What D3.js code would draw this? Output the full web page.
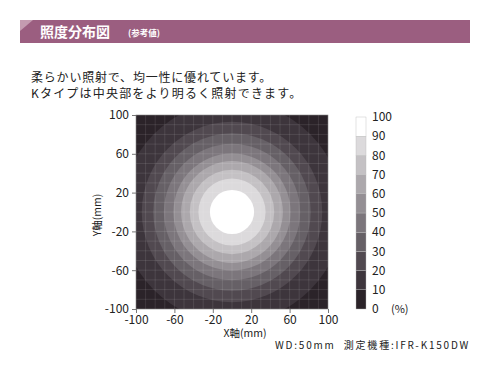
<!DOCTYPE html>
<html>
<head>
<meta charset="utf-8">
<script src="https://cdn.jsdelivr.net/npm/d3@7"></script>
<style>
  body { margin: 0; background: #fff; }
  svg { display: block; font-family: "Noto Sans CJK JP", "Noto Sans", sans-serif; }
</style>
</head>
<body>
<div id="chart"></div>
<script>
// contour levels (%) and the radius (mm) where each level boundary sits
const levels = [10, 20, 30, 40, 50, 60, 70, 80, 90];
const radiiMm = [115, 94, 82, 71, 61, 53, 44, 35, 23];
// band colours, 0-10 ... 90-100
const bandColors = ['#2b2329', '#3d353c', '#514950', '#666066', '#7c767c',
                    '#948f94', '#aca8ac', '#c4c1c4', '#dcdadc', '#ffffff'];
const xTicks = [-100, -60, -20, 20, 60, 100];
const yTicks = [-100, -60, -20, 20, 60, 100];
const barTicks = [0, 10, 20, 30, 40, 50, 60, 70, 80, 90, 100];

const W = 490, H = 370;
const plot = {left: 136, right: 328, top: 115, bottom: 309};

const svg = d3.select('#chart').append('svg')
    .attr('width', W)
    .attr('height', H);

// ===== header band =====
svg.append('rect')
    .attr('x', 20).attr('y', 20)
    .attr('width', 450).attr('height', 23)
    .attr('fill', '#9b5e80');
svg.append('path')
    .attr('d', 'M20,20 L33,20 L20,31 Z')
    .attr('fill', '#c49bb0');
svg.append('text')
    .attr('x', 40).attr('y', 37)
    .attr('fill', '#fff')
    .attr('font-size', 14)
    .attr('font-weight', 'bold')
    .text('照度分布図');
svg.append('text')
    .attr('x', 128).attr('y', 36)
    .attr('fill', '#fff')
    .attr('font-size', 8.5)
    .attr('font-weight', 'bold')
    .text('(参考値)');

svg.append('text')
    .attr('x', 31).attr('y', 82)
    .attr('fill', '#222')
    .attr('font-size', 12)
    .attr('letter-spacing', 0.8)
    .text('柔らかい照射で、均一性に優れています。');
svg.append('text')
    .attr('x', 31).attr('y', 98)
    .attr('fill', '#222')
    .attr('font-size', 12)
    .attr('letter-spacing', 1.2)
    .text('Kタイプは中央部をより明るく照射できます。');

// ===== contour map =====
const x = d3.scaleLinear().domain([-100, 100]).range([plot.left, plot.right]);
const y = d3.scaleLinear().domain([-100, 100]).range([plot.bottom, plot.top]);

svg.append('clipPath').attr('id', 'clip')
  .append('rect')
    .attr('x', plot.left).attr('y', plot.top)
    .attr('width', plot.right - plot.left)
    .attr('height', plot.bottom - plot.top);

const g = svg.append('g').attr('clip-path', 'url(#clip)');
g.append('rect')
    .attr('x', plot.left).attr('y', plot.top)
    .attr('width', plot.right - plot.left)
    .attr('height', plot.bottom - plot.top)
    .attr('fill', bandColors[0]);

g.selectAll('circle').data(levels)
    .enter()
    .append('circle')
    .attr('cx', x(0))
    .attr('cy', y(0))
    .attr('r', (d, i) => x(radiiMm[i]) - x(0))
    .attr('fill', (d, i) => bandColors[i + 1]);

// light grid every 10 mm
const grid = d3.range(-90, 100, 10);
g.selectAll('.gx').data(grid).enter().append('line')
    .attr('x1', d => x(d)).attr('x2', d => x(d))
    .attr('y1', plot.top).attr('y2', plot.bottom)
    .attr('stroke', '#fff').attr('stroke-opacity', 0.13).attr('stroke-width', 0.8);
g.selectAll('.gy').data(grid).enter().append('line')
    .attr('y1', d => y(d)).attr('y2', d => y(d))
    .attr('x1', plot.left).attr('x2', plot.right)
    .attr('stroke', '#fff').attr('stroke-opacity', 0.13).attr('stroke-width', 0.8);

svg.append('rect')
    .attr('x', plot.left).attr('y', plot.top)
    .attr('width', plot.right - plot.left)
    .attr('height', plot.bottom - plot.top)
    .attr('fill', 'none')
    .attr('stroke', '#888').attr('stroke-width', 0.6);

const xAxis = svg.append('g')
    .attr('transform', `translate(0,${plot.bottom})`)
    .call(d3.axisBottom(x).tickValues(xTicks).tickSize(4).tickPadding(2)
        .tickFormat(d => String(d)));
const yAxis = svg.append('g')
    .attr('transform', `translate(${plot.left},0)`)
    .call(d3.axisLeft(y).tickValues(yTicks).tickSize(4).tickPadding(3)
        .tickFormat(d => String(d)));
[xAxis, yAxis].forEach(a => {
    a.select('.domain').remove();
    a.selectAll('line').attr('stroke', '#777');
    a.selectAll('text')
        .attr('fill', '#222')
        .attr('font-size', 12)
        .attr('font-family', '"Noto Sans CJK JP", sans-serif');
});

svg.append('text')
    .attr('x', 245).attr('y', 337)
    .attr('text-anchor', 'middle')
    .attr('fill', '#222')
    .attr('font-size', 10.5)
    .text('X軸(mm)');
svg.append('text')
    .attr('transform', 'translate(101,215) rotate(-90)')
    .attr('text-anchor', 'middle')
    .attr('fill', '#222')
    .attr('font-size', 10.5)
    .text('Y軸(mm)');

// ===== colour bar =====
const cb = d3.scaleLinear().domain([0, 100]).range([309, 117]);
svg.selectAll('.band').data(bandColors).enter().append('rect')
    .attr('x', 356)
    .attr('y', (d, i) => cb((i + 1) * 10))
    .attr('width', 10)
    .attr('height', (d, i) => cb(i * 10) - cb((i + 1) * 10))
    .attr('fill', d => d)
    .attr('stroke', '#bbb')
    .attr('stroke-width', 0.4);

svg.selectAll('.blab').data(barTicks).enter().append('text')
    .attr('x', 372)
    .attr('y', d => cb(d))
    .attr('dy', '0.35em')
    .attr('fill', '#222')
    .attr('font-size', 12)
    .text(d => d);
svg.append('text')
    .attr('x', 391).attr('y', cb(0))
    .attr('dy', '0.35em')
    .attr('fill', '#222')
    .attr('font-size', 11)
    .text('(%)');

svg.append('text')
    .attr('x', 275).attr('y', 349)
    .attr('fill', '#222')
    .attr('font-size', 10)
    .attr('letter-spacing', 1.8)
    .attr('xml:space', 'preserve')
    .text('WD:50mm  測定機種:IFR-K150DW');
</script>
</body>
</html>
